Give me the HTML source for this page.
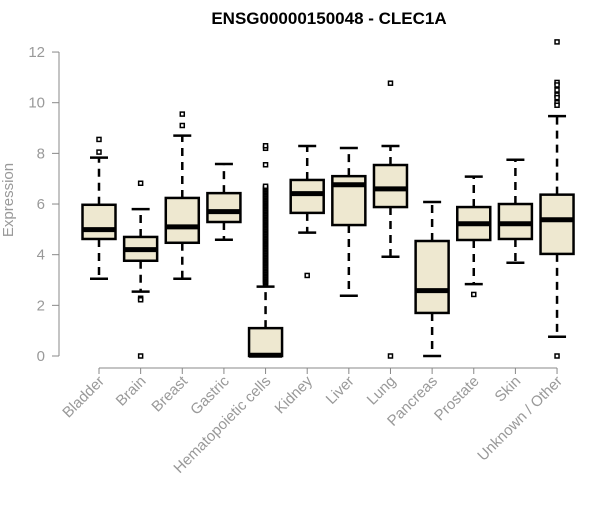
<!DOCTYPE html>
<html><head><meta charset="utf-8"><style>
body{margin:0;background:#fff;width:600px;height:500px;overflow:hidden}
text{font-family:"Liberation Sans",Arial,sans-serif}
</style></head><body>
<svg id="chart" width="600" height="500" xmlns="http://www.w3.org/2000/svg">
<text x="329" y="24" text-anchor="middle" font-size="17" font-weight="bold">ENSG00000150048 - CLEC1A</text>
<text transform="translate(13,200) rotate(-90)" text-anchor="middle" font-size="15" fill="#999">Expression</text>
<g id="axes"></g><g id="boxes"></g>
</svg>
<script>
const categories=["Bladder","Brain","Breast","Gastric","Hematopoietic cells","Kidney","Liver","Lung","Pancreas","Prostate","Skin","Unknown / Other"];
const whiskLow=[3.05,2.54,3.05,4.59,0,4.87,2.38,3.92,0,2.84,3.68,0.76];
const q1=[4.62,3.76,4.47,5.29,0,5.65,5.17,5.88,1.7,4.58,4.62,4.03];
const medians=[4.99,4.2,5.1,5.7,0.03,6.41,6.76,6.6,2.58,5.22,5.22,5.38];
const q3=[5.97,4.7,6.24,6.43,1.1,6.95,7.1,7.54,4.54,5.88,6.0,6.37];
const whiskHigh=[7.83,5.8,8.7,7.58,2.74,8.29,8.21,8.29,6.08,7.08,7.75,9.47];
const hemOut=[];for(let v=2.85;v<=6.7;v+=0.05)hemOut.push(+v.toFixed(2));
const outliers=[[8.55,8.05],[6.82,2.28,2.22,0],[9.55,9.1],[],hemOut.concat([7.55,8.2,8.3]),[3.18],[],[10.77,0],[],[2.43],[],[12.4,10.8,10.7,10.5,10.3,10.2,10.0,9.9,0]];
const yTicks=[0,2,4,6,8,10,12];
const NS="http://www.w3.org/2000/svg";
const y=v=>356-v*25.33;
const x=i=>99+i*41.64;
function mk(tag,attrs,parent){const e=document.createElementNS(NS,tag);for(const k in attrs)e.setAttribute(k,attrs[k]);parent.appendChild(e);return e;}
const ax=document.getElementById('axes'),bx=document.getElementById('boxes');
let l=mk('line',{x1:59,x2:59,y1:y(0),y2:y(12),stroke:'#888'},ax);


yTicks.forEach(t=>{
 const tk=mk('line',{x1:52,x2:59,y1:y(t),y2:y(t),stroke:'#888'},ax);
 
 
 const tx=mk('text',{x:45,y:y(t)+5,'text-anchor':'end','font-size':15,fill:'#999'},ax);tx.textContent=t;
 
 
});
l=mk('line',{x1:x(0),x2:x(11),y1:368,y2:368,stroke:'#888'},ax);


categories.forEach((c,i)=>{
 const cx=x(i);
 const tk=mk('line',{x1:cx,x2:cx,y1:368,y2:374,stroke:'#888'},ax);
 
 
 const tx=mk('text',{transform:`translate(${cx+6},${382}) rotate(-45)`,'text-anchor':'end','font-size':15,fill:'#999'},ax);tx.textContent=c;
 
 
 const g=mk('g',{},bx);
 
 
 mk('line',{x1:cx,x2:cx,y1:y(q3[i]),y2:y(whiskHigh[i]),stroke:'#000','stroke-width':2.5,'stroke-dasharray':'8,6'},g);
 mk('line',{x1:cx,x2:cx,y1:y(q1[i]),y2:y(whiskLow[i]),stroke:'#000','stroke-width':2.5,'stroke-dasharray':'8,6'},g);
 mk('line',{x1:cx-9,x2:cx+9,y1:y(whiskHigh[i]),y2:y(whiskHigh[i]),stroke:'#000','stroke-width':2.5},g);
 mk('line',{x1:cx-9,x2:cx+9,y1:y(whiskLow[i]),y2:y(whiskLow[i]),stroke:'#000','stroke-width':2.5},g);
 mk('rect',{x:cx-16.5,y:y(q3[i]),width:33,height:Math.max(y(q1[i])-y(q3[i]),0.5),fill:'#EEE8D0',stroke:'#000','stroke-width':2.5},g);
 mk('line',{x1:cx-16.5,x2:cx+16.5,y1:y(medians[i]),y2:y(medians[i]),stroke:'#000','stroke-width':5},g);
 outliers[i].forEach(o=>{mk('rect',{x:cx-2,y:y(o)-2,width:4,height:4,fill:'#fff',stroke:'#000','stroke-width':1.5},g);});
});
</script>
</body></html>
